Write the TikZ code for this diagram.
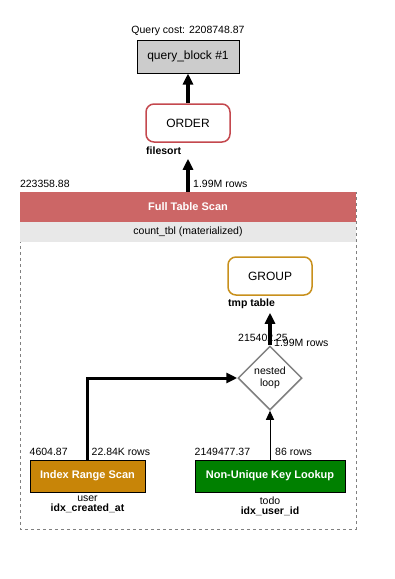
\documentclass[tikz,border=0pt]{standalone}
\usepackage{fontspec}
\setmainfont{Liberation Sans}
\usetikzlibrary{shapes.geometric, arrows.meta}
\definecolor{blockGray}{HTML}{CCCCCC}
\definecolor{orderRed}{HTML}{C4484E}
\definecolor{scanRed}{HTML}{CC6666}
\definecolor{rowGray}{HTML}{E8E8E8}
\definecolor{groupGold}{HTML}{C8901C}
\definecolor{rangeGold}{HTML}{C88508}
\definecolor{lookupGreen}{HTML}{008000}

\begin{document}
\begin{tikzpicture}[x=1pt, y=-1pt,
		lbl/.style={font=\fontsize{10.5}{11}\selectfont, inner sep=0pt},
		bold/.style={lbl, font=\fontsize{10.5}{11}\selectfont\bfseries},
		blockbox/.style={
			draw=black, fill=blockGray, line width=1pt,
			minimum width=102pt, minimum height=33pt,
			font=\fontsize{12}{13}\selectfont
		},
		opbox/.style={
			rounded corners=8pt, draw=#1, fill=white, line width=1.5pt,
			minimum width=84pt, minimum height=38pt,
			font=\fontsize{12}{13}\selectfont
		},
		accessbox/.style={
			draw=black, fill=#1, line width=1pt, text=white,
			minimum height=32pt, font=\fontsize{11}{12}\selectfont\bfseries
		},
		loopnode/.style={
			diamond, aspect=1, draw=gray, line width=1.5pt, fill=white,
			minimum width=64pt, minimum height=64pt, inner sep=0pt,
			align=center, font=\fontsize{10.5}{11.5}\selectfont
		},
		thickarrow/.style={-{Triangle[length=11pt, width=10pt]}, line width=4pt},
		thinarrow/.style={-{Triangle[length=9pt, width=8pt]}, line width=1pt}
		]
		
		\useasboundingbox (0,0) rectangle (395,579);
		
		% top of the plan
		\node[blockbox] (qb) at (188,56.5) {query\_block \#1};
		\node[lbl, anchor=south] (cost) at ([yshift=4pt]qb.north) {Query cost: 2208748.87};
		
		\node[opbox=orderRed] (ord) at (188,123) {ORDER};
		\node[bold, anchor=west] (sortlbl) at (146,151) {filesort};
		
		% materialized table
		\draw[gray, dashed] (20,192) rectangle (356,529);
		\node[draw=none, fill=scanRed, text=white, minimum width=336pt, minimum height=30pt,
		font=\fontsize{11}{12}\selectfont\bfseries] (fts) at (188,207) {Full Table Scan};
		\node[draw=none, fill=rowGray, minimum width=336pt, minimum height=20pt,
		font=\fontsize{10.5}{11}\selectfont] (cnt) at (188,232) {count\_tbl (materialized)};
		\node[lbl, anchor=south west] (ftscost) at ([yshift=4pt]fts.north west) {223358.88};
		\node[lbl, anchor=south west] (ftsrows) at ([xshift=5pt, yshift=4pt]fts.north) {1.99M rows};
		
		\node[opbox=groupGold] (grp) at (270,276) {GROUP};
		\node[bold, anchor=west] (tmplbl) at (228,304) {tmp table};
		
		\node[loopnode] (nl) at (270,378) {nested\\loop};
		\node[lbl, anchor=south east] (nlcost) at ([xshift=18pt, yshift=3pt]nl.north) {215402.25};
		\node[lbl, anchor=south west] (nlrows) at ([xshift=4pt, yshift=-2pt]nl.north) {1.99M rows};
		
		\node[accessbox=rangeGold, minimum width=115pt] (irs) at (87.5,476) {Index Range Scan};
		\node[lbl, anchor=south west] (irscost) at ([yshift=4pt]irs.north west) {4604.87};
		\node[lbl, anchor=south west] (irsrows) at ([xshift=4pt, yshift=4pt]irs.north) {22.84K rows};
		\node[lbl, anchor=north] (irstbl) at ([yshift=-3pt]irs.south) {user};
		\node[bold, anchor=north] (irskey) at ([yshift=-2pt]irstbl.south) {idx\_created\_at};
		
		\node[accessbox=lookupGreen, minimum width=150pt] (nukl) at (270,476) {Non-Unique Key Lookup};
		\node[lbl, anchor=south west] (nuklcost) at ([yshift=4pt]nukl.north west) {2149477.37};
		\node[lbl, anchor=south west] (nuklrows) at ([xshift=5pt, yshift=4pt]nukl.north) {86 rows};
		\node[lbl, anchor=north] (nukltbl) at ([yshift=-4pt]nukl.south) {todo};
		\node[bold, anchor=north] (nuklkey) at ([yshift=-2pt]nukltbl.south) {idx\_user\_id};
		
		% flows
		\draw[thickarrow] (ord.north) -- (qb.south);
		\draw[thickarrow, shorten >=16pt] (fts.north) -- (ord.south);
		\draw[thickarrow, shorten >=17pt] (nl.north) -- (grp.south);
		\draw[thickarrow, line width=3pt] (irs.north) |- (nl.west);
		\draw[thinarrow] (nukl.north) -- (nl.south);
		
	\end{tikzpicture}
\end{document}
